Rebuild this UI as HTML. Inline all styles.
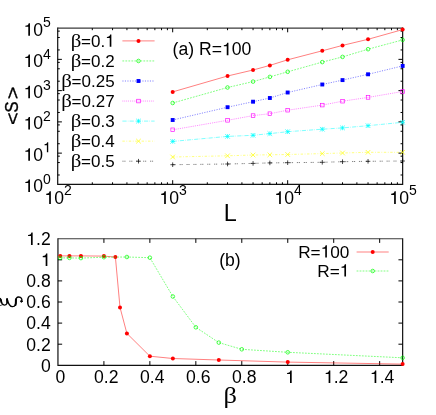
<!DOCTYPE html>
<html><head><meta charset="utf-8"><title>plot</title>
<style>html,body{margin:0;padding:0;background:#fff;}body{width:436px;height:415px;overflow:hidden;font-family:"Liberation Sans",sans-serif;}</style>
</head><body>
<svg width="436" height="415" viewBox="0 0 436 415" style="display:block;will-change:transform;opacity:0.999">
<rect width="436" height="415" fill="#fff"/>
<g font-family='"Liberation Sans", sans-serif' fill="#000" style="font-kerning:none">
<path d="M57.7 27.55V184.4H402.65V27.55" stroke="#111" stroke-width="1.2" fill="none"/>
<path d="M57.7 28.1H402.65" stroke="#3a3a3a" stroke-width="1.1" fill="none"/>
<line x1="57.70" y1="174.99" x2="59.80" y2="174.99" stroke="#000" stroke-width="1"/>
<line x1="402.65" y1="174.99" x2="400.55" y2="174.99" stroke="#000" stroke-width="1"/>
<line x1="57.70" y1="162.55" x2="59.80" y2="162.55" stroke="#000" stroke-width="1"/>
<line x1="402.65" y1="162.55" x2="400.55" y2="162.55" stroke="#000" stroke-width="1"/>
<line x1="57.70" y1="156.17" x2="59.80" y2="156.17" stroke="#000" stroke-width="1"/>
<line x1="402.65" y1="156.17" x2="400.55" y2="156.17" stroke="#000" stroke-width="1"/>
<path transform="translate(23.53,192.00) scale(0.01760,-0.01760)" d="M366 0L270 0L270 508L104 508L104 570C209 572 268 606 296 712L366 712Z" fill="#000"/>
<text x="33.32" y="192.00" font-size="17.6">0</text>
<text x="43.11" y="183.60" font-size="14.0">0</text>
<line x1="57.70" y1="153.14" x2="61.90" y2="153.14" stroke="#000" stroke-width="1"/>
<line x1="402.65" y1="153.14" x2="398.45" y2="153.14" stroke="#000" stroke-width="1"/>
<line x1="57.70" y1="143.73" x2="59.80" y2="143.73" stroke="#000" stroke-width="1"/>
<line x1="402.65" y1="143.73" x2="400.55" y2="143.73" stroke="#000" stroke-width="1"/>
<line x1="57.70" y1="131.29" x2="59.80" y2="131.29" stroke="#000" stroke-width="1"/>
<line x1="402.65" y1="131.29" x2="400.55" y2="131.29" stroke="#000" stroke-width="1"/>
<line x1="57.70" y1="124.91" x2="59.80" y2="124.91" stroke="#000" stroke-width="1"/>
<line x1="402.65" y1="124.91" x2="400.55" y2="124.91" stroke="#000" stroke-width="1"/>
<path transform="translate(23.53,160.74) scale(0.01760,-0.01760)" d="M366 0L270 0L270 508L104 508L104 570C209 572 268 606 296 712L366 712Z" fill="#000"/>
<text x="33.32" y="160.74" font-size="17.6">0</text>
<path transform="translate(43.11,152.34) scale(0.01400,-0.01400)" d="M366 0L270 0L270 508L104 508L104 570C209 572 268 606 296 712L366 712Z" fill="#000"/>
<line x1="57.70" y1="121.88" x2="61.90" y2="121.88" stroke="#000" stroke-width="1"/>
<line x1="402.65" y1="121.88" x2="398.45" y2="121.88" stroke="#000" stroke-width="1"/>
<line x1="57.70" y1="112.47" x2="59.80" y2="112.47" stroke="#000" stroke-width="1"/>
<line x1="402.65" y1="112.47" x2="400.55" y2="112.47" stroke="#000" stroke-width="1"/>
<line x1="57.70" y1="100.03" x2="59.80" y2="100.03" stroke="#000" stroke-width="1"/>
<line x1="402.65" y1="100.03" x2="400.55" y2="100.03" stroke="#000" stroke-width="1"/>
<line x1="57.70" y1="93.65" x2="59.80" y2="93.65" stroke="#000" stroke-width="1"/>
<line x1="402.65" y1="93.65" x2="400.55" y2="93.65" stroke="#000" stroke-width="1"/>
<path transform="translate(23.53,129.48) scale(0.01760,-0.01760)" d="M366 0L270 0L270 508L104 508L104 570C209 572 268 606 296 712L366 712Z" fill="#000"/>
<text x="33.32" y="129.48" font-size="17.6">0</text>
<text x="43.11" y="121.08" font-size="14.0">2</text>
<line x1="57.70" y1="90.62" x2="61.90" y2="90.62" stroke="#000" stroke-width="1"/>
<line x1="402.65" y1="90.62" x2="398.45" y2="90.62" stroke="#000" stroke-width="1"/>
<line x1="57.70" y1="81.21" x2="59.80" y2="81.21" stroke="#000" stroke-width="1"/>
<line x1="402.65" y1="81.21" x2="400.55" y2="81.21" stroke="#000" stroke-width="1"/>
<line x1="57.70" y1="68.77" x2="59.80" y2="68.77" stroke="#000" stroke-width="1"/>
<line x1="402.65" y1="68.77" x2="400.55" y2="68.77" stroke="#000" stroke-width="1"/>
<line x1="57.70" y1="62.39" x2="59.80" y2="62.39" stroke="#000" stroke-width="1"/>
<line x1="402.65" y1="62.39" x2="400.55" y2="62.39" stroke="#000" stroke-width="1"/>
<path transform="translate(23.53,98.22) scale(0.01760,-0.01760)" d="M366 0L270 0L270 508L104 508L104 570C209 572 268 606 296 712L366 712Z" fill="#000"/>
<text x="33.32" y="98.22" font-size="17.6">0</text>
<text x="43.11" y="89.82" font-size="14.0">3</text>
<line x1="57.70" y1="59.36" x2="61.90" y2="59.36" stroke="#000" stroke-width="1"/>
<line x1="402.65" y1="59.36" x2="398.45" y2="59.36" stroke="#000" stroke-width="1"/>
<line x1="57.70" y1="49.95" x2="59.80" y2="49.95" stroke="#000" stroke-width="1"/>
<line x1="402.65" y1="49.95" x2="400.55" y2="49.95" stroke="#000" stroke-width="1"/>
<line x1="57.70" y1="37.51" x2="59.80" y2="37.51" stroke="#000" stroke-width="1"/>
<line x1="402.65" y1="37.51" x2="400.55" y2="37.51" stroke="#000" stroke-width="1"/>
<line x1="57.70" y1="31.13" x2="59.80" y2="31.13" stroke="#000" stroke-width="1"/>
<line x1="402.65" y1="31.13" x2="400.55" y2="31.13" stroke="#000" stroke-width="1"/>
<path transform="translate(23.53,66.96) scale(0.01760,-0.01760)" d="M366 0L270 0L270 508L104 508L104 570C209 572 268 606 296 712L366 712Z" fill="#000"/>
<text x="33.32" y="66.96" font-size="17.6">0</text>
<text x="43.11" y="58.56" font-size="14.0">4</text>
<path transform="translate(23.53,35.70) scale(0.01760,-0.01760)" d="M366 0L270 0L270 508L104 508L104 570C209 572 268 606 296 712L366 712Z" fill="#000"/>
<text x="33.32" y="35.70" font-size="17.6">0</text>
<text x="43.11" y="27.30" font-size="14.0">5</text>
<line x1="92.31" y1="184.40" x2="92.31" y2="182.30" stroke="#000" stroke-width="1"/>
<line x1="92.31" y1="28.10" x2="92.31" y2="30.20" stroke="#000" stroke-width="1"/>
<line x1="112.56" y1="184.40" x2="112.56" y2="182.30" stroke="#000" stroke-width="1"/>
<line x1="112.56" y1="28.10" x2="112.56" y2="30.20" stroke="#000" stroke-width="1"/>
<line x1="126.93" y1="184.40" x2="126.93" y2="182.30" stroke="#000" stroke-width="1"/>
<line x1="126.93" y1="28.10" x2="126.93" y2="30.20" stroke="#000" stroke-width="1"/>
<line x1="138.07" y1="184.40" x2="138.07" y2="182.30" stroke="#000" stroke-width="1"/>
<line x1="138.07" y1="28.10" x2="138.07" y2="30.20" stroke="#000" stroke-width="1"/>
<line x1="147.17" y1="184.40" x2="147.17" y2="182.30" stroke="#000" stroke-width="1"/>
<line x1="147.17" y1="28.10" x2="147.17" y2="30.20" stroke="#000" stroke-width="1"/>
<line x1="154.87" y1="184.40" x2="154.87" y2="182.30" stroke="#000" stroke-width="1"/>
<line x1="154.87" y1="28.10" x2="154.87" y2="30.20" stroke="#000" stroke-width="1"/>
<line x1="161.54" y1="184.40" x2="161.54" y2="182.30" stroke="#000" stroke-width="1"/>
<line x1="161.54" y1="28.10" x2="161.54" y2="30.20" stroke="#000" stroke-width="1"/>
<line x1="167.42" y1="184.40" x2="167.42" y2="182.30" stroke="#000" stroke-width="1"/>
<line x1="167.42" y1="28.10" x2="167.42" y2="30.20" stroke="#000" stroke-width="1"/>
<path transform="translate(44.42,203.90) scale(0.01760,-0.01760)" d="M366 0L270 0L270 508L104 508L104 570C209 572 268 606 296 712L366 712Z" fill="#000"/>
<text x="54.21" y="203.90" font-size="17.6">0</text>
<text x="64.00" y="194.80" font-size="14.0">2</text>
<line x1="172.68" y1="184.40" x2="172.68" y2="180.20" stroke="#000" stroke-width="1"/>
<line x1="172.68" y1="28.10" x2="172.68" y2="32.30" stroke="#000" stroke-width="1"/>
<line x1="207.30" y1="184.40" x2="207.30" y2="182.30" stroke="#000" stroke-width="1"/>
<line x1="207.30" y1="28.10" x2="207.30" y2="30.20" stroke="#000" stroke-width="1"/>
<line x1="227.54" y1="184.40" x2="227.54" y2="182.30" stroke="#000" stroke-width="1"/>
<line x1="227.54" y1="28.10" x2="227.54" y2="30.20" stroke="#000" stroke-width="1"/>
<line x1="241.91" y1="184.40" x2="241.91" y2="182.30" stroke="#000" stroke-width="1"/>
<line x1="241.91" y1="28.10" x2="241.91" y2="30.20" stroke="#000" stroke-width="1"/>
<line x1="253.05" y1="184.40" x2="253.05" y2="182.30" stroke="#000" stroke-width="1"/>
<line x1="253.05" y1="28.10" x2="253.05" y2="30.20" stroke="#000" stroke-width="1"/>
<line x1="262.16" y1="184.40" x2="262.16" y2="182.30" stroke="#000" stroke-width="1"/>
<line x1="262.16" y1="28.10" x2="262.16" y2="30.20" stroke="#000" stroke-width="1"/>
<line x1="269.86" y1="184.40" x2="269.86" y2="182.30" stroke="#000" stroke-width="1"/>
<line x1="269.86" y1="28.10" x2="269.86" y2="30.20" stroke="#000" stroke-width="1"/>
<line x1="276.52" y1="184.40" x2="276.52" y2="182.30" stroke="#000" stroke-width="1"/>
<line x1="276.52" y1="28.10" x2="276.52" y2="30.20" stroke="#000" stroke-width="1"/>
<line x1="282.41" y1="184.40" x2="282.41" y2="182.30" stroke="#000" stroke-width="1"/>
<line x1="282.41" y1="28.10" x2="282.41" y2="30.20" stroke="#000" stroke-width="1"/>
<path transform="translate(159.40,203.90) scale(0.01760,-0.01760)" d="M366 0L270 0L270 508L104 508L104 570C209 572 268 606 296 712L366 712Z" fill="#000"/>
<text x="169.19" y="203.90" font-size="17.6">0</text>
<text x="178.98" y="194.80" font-size="14.0">3</text>
<line x1="287.67" y1="184.40" x2="287.67" y2="180.20" stroke="#000" stroke-width="1"/>
<line x1="287.67" y1="28.10" x2="287.67" y2="32.30" stroke="#000" stroke-width="1"/>
<line x1="322.28" y1="184.40" x2="322.28" y2="182.30" stroke="#000" stroke-width="1"/>
<line x1="322.28" y1="28.10" x2="322.28" y2="30.20" stroke="#000" stroke-width="1"/>
<line x1="342.53" y1="184.40" x2="342.53" y2="182.30" stroke="#000" stroke-width="1"/>
<line x1="342.53" y1="28.10" x2="342.53" y2="30.20" stroke="#000" stroke-width="1"/>
<line x1="356.89" y1="184.40" x2="356.89" y2="182.30" stroke="#000" stroke-width="1"/>
<line x1="356.89" y1="28.10" x2="356.89" y2="30.20" stroke="#000" stroke-width="1"/>
<line x1="368.04" y1="184.40" x2="368.04" y2="182.30" stroke="#000" stroke-width="1"/>
<line x1="368.04" y1="28.10" x2="368.04" y2="30.20" stroke="#000" stroke-width="1"/>
<line x1="377.14" y1="184.40" x2="377.14" y2="182.30" stroke="#000" stroke-width="1"/>
<line x1="377.14" y1="28.10" x2="377.14" y2="30.20" stroke="#000" stroke-width="1"/>
<line x1="384.84" y1="184.40" x2="384.84" y2="182.30" stroke="#000" stroke-width="1"/>
<line x1="384.84" y1="28.10" x2="384.84" y2="30.20" stroke="#000" stroke-width="1"/>
<line x1="391.51" y1="184.40" x2="391.51" y2="182.30" stroke="#000" stroke-width="1"/>
<line x1="391.51" y1="28.10" x2="391.51" y2="30.20" stroke="#000" stroke-width="1"/>
<line x1="397.39" y1="184.40" x2="397.39" y2="182.30" stroke="#000" stroke-width="1"/>
<line x1="397.39" y1="28.10" x2="397.39" y2="30.20" stroke="#000" stroke-width="1"/>
<path transform="translate(274.38,203.90) scale(0.01760,-0.01760)" d="M366 0L270 0L270 508L104 508L104 570C209 572 268 606 296 712L366 712Z" fill="#000"/>
<text x="284.17" y="203.90" font-size="17.6">0</text>
<text x="293.96" y="194.80" font-size="14.0">4</text>
<path transform="translate(389.37,203.90) scale(0.01760,-0.01760)" d="M366 0L270 0L270 508L104 508L104 570C209 572 268 606 296 712L366 712Z" fill="#000"/>
<text x="399.16" y="203.90" font-size="17.6">0</text>
<text x="408.95" y="194.80" font-size="14.0">5</text>
<polyline points="172.68,91.90 227.54,76.00 253.05,70.00 269.86,65.40 287.67,59.80 322.28,50.80 342.53,45.40 368.04,39.30 402.65,29.60" fill="none" stroke="#ff0000" stroke-width="0.5"/>
<circle cx="172.68" cy="91.90" r="2.0" fill="#ff0000"/>
<circle cx="227.54" cy="76.00" r="2.0" fill="#ff0000"/>
<circle cx="253.05" cy="70.00" r="2.0" fill="#ff0000"/>
<circle cx="269.86" cy="65.40" r="2.0" fill="#ff0000"/>
<circle cx="287.67" cy="59.80" r="2.0" fill="#ff0000"/>
<circle cx="322.28" cy="50.80" r="2.0" fill="#ff0000"/>
<circle cx="342.53" cy="45.40" r="2.0" fill="#ff0000"/>
<circle cx="368.04" cy="39.30" r="2.0" fill="#ff0000"/>
<circle cx="402.65" cy="29.60" r="2.0" fill="#ff0000"/>
<polyline points="122.40,40.90 154.60,40.90" fill="none" stroke="#ff0000" stroke-width="0.5"/>
<circle cx="138.50" cy="40.90" r="2.0" fill="#ff0000"/>
<text x="81.04" y="46.70" font-size="17.0">=0.</text>
<path transform="translate(105.14,46.70) scale(0.01700,-0.01700)" d="M366 0L270 0L270 508L104 508L104 570C209 572 268 606 296 712L366 712Z" fill="#000"/>
<text transform="translate(81.34,46.70) scale(1.17,1)" font-size="17.8" text-anchor="end" font-family='"Liberation Serif", serif'>β</text>
<polyline points="172.68,103.00 227.54,87.50 253.05,81.60 269.86,76.90 287.67,71.80 322.28,62.10 342.53,56.90 368.04,49.20 402.65,39.90" fill="none" stroke="#00ff00" stroke-width="0.5" stroke-dasharray="1.8 1.2"/>
<circle cx="172.68" cy="103.00" r="1.8" fill="none" stroke="#00ff00" stroke-width="0.7"/>
<circle cx="227.54" cy="87.50" r="1.8" fill="none" stroke="#00ff00" stroke-width="0.7"/>
<circle cx="253.05" cy="81.60" r="1.8" fill="none" stroke="#00ff00" stroke-width="0.7"/>
<circle cx="269.86" cy="76.90" r="1.8" fill="none" stroke="#00ff00" stroke-width="0.7"/>
<circle cx="287.67" cy="71.80" r="1.8" fill="none" stroke="#00ff00" stroke-width="0.7"/>
<circle cx="322.28" cy="62.10" r="1.8" fill="none" stroke="#00ff00" stroke-width="0.7"/>
<circle cx="342.53" cy="56.90" r="1.8" fill="none" stroke="#00ff00" stroke-width="0.7"/>
<circle cx="368.04" cy="49.20" r="1.8" fill="none" stroke="#00ff00" stroke-width="0.7"/>
<circle cx="402.65" cy="39.90" r="1.8" fill="none" stroke="#00ff00" stroke-width="0.7"/>
<polyline points="122.40,60.95 154.60,60.95" fill="none" stroke="#00ff00" stroke-width="0.5" stroke-dasharray="1.8 1.2"/>
<circle cx="138.50" cy="60.95" r="1.8" fill="none" stroke="#00ff00" stroke-width="0.7"/>
<text x="81.04" y="66.75" font-size="17.0">=0.2</text>
<text transform="translate(81.34,66.75) scale(1.17,1)" font-size="17.8" text-anchor="end" font-family='"Liberation Serif", serif'>β</text>
<polyline points="172.68,120.00 227.54,107.20 253.05,101.70 269.86,98.00 287.67,92.50 322.28,84.50 342.53,80.10 368.04,74.30 402.65,65.90" fill="none" stroke="#0000ff" stroke-width="0.5" stroke-dasharray="1.1 1.4"/>
<rect x="170.73" y="118.05" width="3.9" height="3.9" fill="#0000ff"/>
<rect x="225.59" y="105.25" width="3.9" height="3.9" fill="#0000ff"/>
<rect x="251.10" y="99.75" width="3.9" height="3.9" fill="#0000ff"/>
<rect x="267.91" y="96.05" width="3.9" height="3.9" fill="#0000ff"/>
<rect x="285.72" y="90.55" width="3.9" height="3.9" fill="#0000ff"/>
<rect x="320.33" y="82.55" width="3.9" height="3.9" fill="#0000ff"/>
<rect x="340.58" y="78.15" width="3.9" height="3.9" fill="#0000ff"/>
<rect x="366.09" y="72.35" width="3.9" height="3.9" fill="#0000ff"/>
<rect x="400.70" y="63.95" width="3.9" height="3.9" fill="#0000ff"/>
<polyline points="122.40,81.00 154.60,81.00" fill="none" stroke="#0000ff" stroke-width="0.5" stroke-dasharray="1.1 1.4"/>
<rect x="136.55" y="79.05" width="3.9" height="3.9" fill="#0000ff"/>
<text x="71.58" y="86.80" font-size="17.0">=0.25</text>
<text transform="translate(71.88,86.80) scale(1.17,1)" font-size="17.8" text-anchor="end" font-family='"Liberation Serif", serif'>β</text>
<polyline points="172.68,129.80 227.54,120.30 253.05,115.60 269.86,113.70 287.67,110.20 322.28,105.10 342.53,101.20 368.04,97.40 402.65,91.50" fill="none" stroke="#ff00ff" stroke-width="0.5" stroke-dasharray="0.9 1.0"/>
<rect x="170.88" y="128.00" width="3.6" height="3.6" fill="none" stroke="#ff00ff" stroke-width="0.65"/>
<rect x="225.74" y="118.50" width="3.6" height="3.6" fill="none" stroke="#ff00ff" stroke-width="0.65"/>
<rect x="251.25" y="113.80" width="3.6" height="3.6" fill="none" stroke="#ff00ff" stroke-width="0.65"/>
<rect x="268.06" y="111.90" width="3.6" height="3.6" fill="none" stroke="#ff00ff" stroke-width="0.65"/>
<rect x="285.87" y="108.40" width="3.6" height="3.6" fill="none" stroke="#ff00ff" stroke-width="0.65"/>
<rect x="320.48" y="103.30" width="3.6" height="3.6" fill="none" stroke="#ff00ff" stroke-width="0.65"/>
<rect x="340.73" y="99.40" width="3.6" height="3.6" fill="none" stroke="#ff00ff" stroke-width="0.65"/>
<rect x="366.24" y="95.60" width="3.6" height="3.6" fill="none" stroke="#ff00ff" stroke-width="0.65"/>
<rect x="400.85" y="89.70" width="3.6" height="3.6" fill="none" stroke="#ff00ff" stroke-width="0.65"/>
<polyline points="122.40,101.05 154.60,101.05" fill="none" stroke="#ff00ff" stroke-width="0.5" stroke-dasharray="0.9 1.0"/>
<rect x="136.70" y="99.25" width="3.6" height="3.6" fill="none" stroke="#ff00ff" stroke-width="0.65"/>
<text x="71.58" y="106.85" font-size="17.0">=0.27</text>
<text transform="translate(71.88,106.85) scale(1.17,1)" font-size="17.8" text-anchor="end" font-family='"Liberation Serif", serif'>β</text>
<polyline points="172.68,141.40 227.54,136.40 253.05,135.30 269.86,133.60 287.67,131.70 322.28,129.20 342.53,127.90 368.04,125.70 402.65,122.30" fill="none" stroke="#00ffff" stroke-width="0.5" stroke-dasharray="4.2 1.2 0.6 1.2"/>
<path d="M170.38 141.40H174.98M172.68 139.10V143.70M170.38 139.10L174.98 143.70M170.38 143.70L174.98 139.10" stroke="#00ffff" stroke-width="0.7" fill="none"/>
<path d="M225.24 136.40H229.84M227.54 134.10V138.70M225.24 134.10L229.84 138.70M225.24 138.70L229.84 134.10" stroke="#00ffff" stroke-width="0.7" fill="none"/>
<path d="M250.75 135.30H255.35M253.05 133.00V137.60M250.75 133.00L255.35 137.60M250.75 137.60L255.35 133.00" stroke="#00ffff" stroke-width="0.7" fill="none"/>
<path d="M267.56 133.60H272.16M269.86 131.30V135.90M267.56 131.30L272.16 135.90M267.56 135.90L272.16 131.30" stroke="#00ffff" stroke-width="0.7" fill="none"/>
<path d="M285.37 131.70H289.97M287.67 129.40V134.00M285.37 129.40L289.97 134.00M285.37 134.00L289.97 129.40" stroke="#00ffff" stroke-width="0.7" fill="none"/>
<path d="M319.98 129.20H324.58M322.28 126.90V131.50M319.98 126.90L324.58 131.50M319.98 131.50L324.58 126.90" stroke="#00ffff" stroke-width="0.7" fill="none"/>
<path d="M340.23 127.90H344.83M342.53 125.60V130.20M340.23 125.60L344.83 130.20M340.23 130.20L344.83 125.60" stroke="#00ffff" stroke-width="0.7" fill="none"/>
<path d="M365.74 125.70H370.34M368.04 123.40V128.00M365.74 123.40L370.34 128.00M365.74 128.00L370.34 123.40" stroke="#00ffff" stroke-width="0.7" fill="none"/>
<path d="M400.35 122.30H404.95M402.65 120.00V124.60M400.35 120.00L404.95 124.60M400.35 124.60L404.95 120.00" stroke="#00ffff" stroke-width="0.7" fill="none"/>
<polyline points="122.40,121.10 154.60,121.10" fill="none" stroke="#00ffff" stroke-width="0.5" stroke-dasharray="4.2 1.2 0.6 1.2"/>
<path d="M136.20 121.10H140.80M138.50 118.80V123.40M136.20 118.80L140.80 123.40M136.20 123.40L140.80 118.80" stroke="#00ffff" stroke-width="0.7" fill="none"/>
<text x="81.04" y="126.90" font-size="17.0">=0.3</text>
<text transform="translate(81.34,126.90) scale(1.17,1)" font-size="17.8" text-anchor="end" font-family='"Liberation Serif", serif'>β</text>
<polyline points="172.68,157.00 227.54,155.80 253.05,155.00 269.86,154.80 287.67,154.50 322.28,153.60 342.53,153.00 368.04,152.30 402.65,152.30" fill="none" stroke="#ffff00" stroke-width="0.5" stroke-dasharray="2.4 1.6 0.8 1.6"/>
<path d="M170.38 154.70L174.98 159.30M170.38 159.30L174.98 154.70" stroke="#ffff00" stroke-width="0.7" fill="none"/>
<path d="M225.24 153.50L229.84 158.10M225.24 158.10L229.84 153.50" stroke="#ffff00" stroke-width="0.7" fill="none"/>
<path d="M250.75 152.70L255.35 157.30M250.75 157.30L255.35 152.70" stroke="#ffff00" stroke-width="0.7" fill="none"/>
<path d="M267.56 152.50L272.16 157.10M267.56 157.10L272.16 152.50" stroke="#ffff00" stroke-width="0.7" fill="none"/>
<path d="M285.37 152.20L289.97 156.80M285.37 156.80L289.97 152.20" stroke="#ffff00" stroke-width="0.7" fill="none"/>
<path d="M319.98 151.30L324.58 155.90M319.98 155.90L324.58 151.30" stroke="#ffff00" stroke-width="0.7" fill="none"/>
<path d="M340.23 150.70L344.83 155.30M340.23 155.30L344.83 150.70" stroke="#ffff00" stroke-width="0.7" fill="none"/>
<path d="M365.74 150.00L370.34 154.60M365.74 154.60L370.34 150.00" stroke="#ffff00" stroke-width="0.7" fill="none"/>
<path d="M400.35 150.00L404.95 154.60M400.35 154.60L404.95 150.00" stroke="#ffff00" stroke-width="0.7" fill="none"/>
<polyline points="122.40,141.15 154.60,141.15" fill="none" stroke="#ffff00" stroke-width="0.5" stroke-dasharray="2.4 1.6 0.8 1.6"/>
<path d="M136.20 138.85L140.80 143.45M136.20 143.45L140.80 138.85" stroke="#ffff00" stroke-width="0.7" fill="none"/>
<text x="81.04" y="146.95" font-size="17.0">=0.4</text>
<text transform="translate(81.34,146.95) scale(1.17,1)" font-size="17.8" text-anchor="end" font-family='"Liberation Serif", serif'>β</text>
<polyline points="172.68,164.70 227.54,164.00 253.05,163.40 269.86,162.90 287.67,162.70 322.28,162.30 342.53,161.70 368.04,161.30 402.65,161.00" fill="none" stroke="#000000" stroke-width="0.5" stroke-dasharray="1.2 0.7 1.2 3.8"/>
<path d="M170.38 164.70H174.98M172.68 162.40V167.00" stroke="#000000" stroke-width="0.7" fill="none"/>
<path d="M225.24 164.00H229.84M227.54 161.70V166.30" stroke="#000000" stroke-width="0.7" fill="none"/>
<path d="M250.75 163.40H255.35M253.05 161.10V165.70" stroke="#000000" stroke-width="0.7" fill="none"/>
<path d="M267.56 162.90H272.16M269.86 160.60V165.20" stroke="#000000" stroke-width="0.7" fill="none"/>
<path d="M285.37 162.70H289.97M287.67 160.40V165.00" stroke="#000000" stroke-width="0.7" fill="none"/>
<path d="M319.98 162.30H324.58M322.28 160.00V164.60" stroke="#000000" stroke-width="0.7" fill="none"/>
<path d="M340.23 161.70H344.83M342.53 159.40V164.00" stroke="#000000" stroke-width="0.7" fill="none"/>
<path d="M365.74 161.30H370.34M368.04 159.00V163.60" stroke="#000000" stroke-width="0.7" fill="none"/>
<path d="M400.35 161.00H404.95M402.65 158.70V163.30" stroke="#000000" stroke-width="0.7" fill="none"/>
<polyline points="122.40,161.20 154.60,161.20" fill="none" stroke="#000000" stroke-width="0.5" stroke-dasharray="1.2 0.7 1.2 3.8"/>
<path d="M136.20 161.20H140.80M138.50 158.90V163.50" stroke="#000000" stroke-width="0.7" fill="none"/>
<text x="81.04" y="167.00" font-size="17.0">=0.5</text>
<text transform="translate(81.34,167.00) scale(1.17,1)" font-size="17.8" text-anchor="end" font-family='"Liberation Serif", serif'>β</text>
<text x="172.60" y="55.20" font-size="17.6">(a) R=</text>
<path transform="translate(221.99,55.20) scale(0.01760,-0.01760)" d="M366 0L270 0L270 508L104 508L104 570C209 572 268 606 296 712L366 712Z" fill="#000"/>
<text x="231.78" y="55.20" font-size="17.6">00</text>
<g transform="translate(17.7,106.85) rotate(-90)" text-anchor="middle" stroke="#000" stroke-width="0.35"><text transform="translate(-12.0,1.3) scale(1,0.88)" font-size="21.5">&lt;</text><text transform="scale(0.9,1)" x="0" y="0" font-size="18.4">S</text><text transform="translate(13.9,1.3) scale(1,0.88)" font-size="21.5">&gt;</text></g>
<text x="230.3" y="220.9" font-size="23.4" text-anchor="middle">L</text>
<path d="M57.95 238.14999999999998V365.3H402.65V238.14999999999998" stroke="#111" stroke-width="1.2" fill="none"/>
<path d="M57.95 238.7H402.65" stroke="#3a3a3a" stroke-width="1.1" fill="none"/>
<text x="40.91" y="371.60" font-size="17.6">0</text>
<line x1="57.95" y1="344.20" x2="62.15" y2="344.20" stroke="#000" stroke-width="1"/>
<line x1="402.65" y1="344.20" x2="398.45" y2="344.20" stroke="#000" stroke-width="1"/>
<text x="26.23" y="350.50" font-size="17.6">0.2</text>
<line x1="57.95" y1="323.10" x2="62.15" y2="323.10" stroke="#000" stroke-width="1"/>
<line x1="402.65" y1="323.10" x2="398.45" y2="323.10" stroke="#000" stroke-width="1"/>
<text x="26.23" y="329.40" font-size="17.6">0.4</text>
<line x1="57.95" y1="302.00" x2="62.15" y2="302.00" stroke="#000" stroke-width="1"/>
<line x1="402.65" y1="302.00" x2="398.45" y2="302.00" stroke="#000" stroke-width="1"/>
<text x="26.23" y="308.30" font-size="17.6">0.6</text>
<line x1="57.95" y1="280.90" x2="62.15" y2="280.90" stroke="#000" stroke-width="1"/>
<line x1="402.65" y1="280.90" x2="398.45" y2="280.90" stroke="#000" stroke-width="1"/>
<text x="26.23" y="287.20" font-size="17.6">0.8</text>
<line x1="57.95" y1="259.80" x2="62.15" y2="259.80" stroke="#000" stroke-width="1"/>
<line x1="402.65" y1="259.80" x2="398.45" y2="259.80" stroke="#000" stroke-width="1"/>
<path transform="translate(40.91,266.10) scale(0.01760,-0.01760)" d="M366 0L270 0L270 508L104 508L104 570C209 572 268 606 296 712L366 712Z" fill="#000"/>
<path transform="translate(26.23,245.00) scale(0.01760,-0.01760)" d="M366 0L270 0L270 508L104 508L104 570C209 572 268 606 296 712L366 712Z" fill="#000"/>
<text x="36.02" y="245.00" font-size="17.6">.2</text>
<text x="55.46" y="383.00" font-size="17.6">0</text>
<line x1="103.91" y1="365.30" x2="103.91" y2="361.10" stroke="#000" stroke-width="1"/>
<line x1="103.91" y1="238.70" x2="103.91" y2="242.90" stroke="#000" stroke-width="1"/>
<text x="94.08" y="383.00" font-size="17.6">0.2</text>
<line x1="149.87" y1="365.30" x2="149.87" y2="361.10" stroke="#000" stroke-width="1"/>
<line x1="149.87" y1="238.70" x2="149.87" y2="242.90" stroke="#000" stroke-width="1"/>
<text x="140.04" y="383.00" font-size="17.6">0.4</text>
<line x1="195.83" y1="365.30" x2="195.83" y2="361.10" stroke="#000" stroke-width="1"/>
<line x1="195.83" y1="238.70" x2="195.83" y2="242.90" stroke="#000" stroke-width="1"/>
<text x="186.00" y="383.00" font-size="17.6">0.6</text>
<line x1="241.79" y1="365.30" x2="241.79" y2="361.10" stroke="#000" stroke-width="1"/>
<line x1="241.79" y1="238.70" x2="241.79" y2="242.90" stroke="#000" stroke-width="1"/>
<text x="231.96" y="383.00" font-size="17.6">0.8</text>
<line x1="287.75" y1="365.30" x2="287.75" y2="361.10" stroke="#000" stroke-width="1"/>
<line x1="287.75" y1="238.70" x2="287.75" y2="242.90" stroke="#000" stroke-width="1"/>
<path transform="translate(285.26,383.00) scale(0.01760,-0.01760)" d="M366 0L270 0L270 508L104 508L104 570C209 572 268 606 296 712L366 712Z" fill="#000"/>
<line x1="333.71" y1="365.30" x2="333.71" y2="361.10" stroke="#000" stroke-width="1"/>
<line x1="333.71" y1="238.70" x2="333.71" y2="242.90" stroke="#000" stroke-width="1"/>
<path transform="translate(323.88,383.00) scale(0.01760,-0.01760)" d="M366 0L270 0L270 508L104 508L104 570C209 572 268 606 296 712L366 712Z" fill="#000"/>
<text x="333.67" y="383.00" font-size="17.6">.2</text>
<line x1="379.67" y1="365.30" x2="379.67" y2="361.10" stroke="#000" stroke-width="1"/>
<line x1="379.67" y1="238.70" x2="379.67" y2="242.90" stroke="#000" stroke-width="1"/>
<path transform="translate(369.84,383.00) scale(0.01760,-0.01760)" d="M366 0L270 0L270 508L104 508L104 570C209 572 268 606 296 712L366 712Z" fill="#000"/>
<text x="379.63" y="383.00" font-size="17.6">.4</text>
<polyline points="60.25,255.90 69.44,255.90 80.93,255.90 103.91,256.10 115.40,257.10 120.00,307.40 126.89,333.40 149.87,356.20 172.85,358.50 218.81,360.00 287.75,362.10 402.65,364.10" fill="none" stroke="#ff0000" stroke-width="0.5"/>
<circle cx="60.25" cy="255.90" r="2.0" fill="#ff0000"/>
<circle cx="69.44" cy="255.90" r="2.0" fill="#ff0000"/>
<circle cx="80.93" cy="255.90" r="2.0" fill="#ff0000"/>
<circle cx="103.91" cy="256.10" r="2.0" fill="#ff0000"/>
<circle cx="115.40" cy="257.10" r="2.0" fill="#ff0000"/>
<circle cx="120.00" cy="307.40" r="2.0" fill="#ff0000"/>
<circle cx="126.89" cy="333.40" r="2.0" fill="#ff0000"/>
<circle cx="149.87" cy="356.20" r="2.0" fill="#ff0000"/>
<circle cx="172.85" cy="358.50" r="2.0" fill="#ff0000"/>
<circle cx="218.81" cy="360.00" r="2.0" fill="#ff0000"/>
<circle cx="287.75" cy="362.10" r="2.0" fill="#ff0000"/>
<circle cx="402.65" cy="364.10" r="2.0" fill="#ff0000"/>
<polyline points="60.25,257.90 69.44,257.90 80.93,258.10 103.91,257.20 126.89,257.00 149.87,257.70 172.85,296.50 195.83,327.30 218.81,342.60 241.79,349.30 287.75,352.30 402.65,357.80" fill="none" stroke="#00ff00" stroke-width="0.5" stroke-dasharray="1.8 1.2"/>
<circle cx="60.25" cy="257.90" r="1.8" fill="none" stroke="#00ff00" stroke-width="0.7"/>
<circle cx="69.44" cy="257.90" r="1.8" fill="none" stroke="#00ff00" stroke-width="0.7"/>
<circle cx="80.93" cy="258.10" r="1.8" fill="none" stroke="#00ff00" stroke-width="0.7"/>
<circle cx="103.91" cy="257.20" r="1.8" fill="none" stroke="#00ff00" stroke-width="0.7"/>
<circle cx="126.89" cy="257.00" r="1.8" fill="none" stroke="#00ff00" stroke-width="0.7"/>
<circle cx="149.87" cy="257.70" r="1.8" fill="none" stroke="#00ff00" stroke-width="0.7"/>
<circle cx="172.85" cy="296.50" r="1.8" fill="none" stroke="#00ff00" stroke-width="0.7"/>
<circle cx="195.83" cy="327.30" r="1.8" fill="none" stroke="#00ff00" stroke-width="0.7"/>
<circle cx="218.81" cy="342.60" r="1.8" fill="none" stroke="#00ff00" stroke-width="0.7"/>
<circle cx="241.79" cy="349.30" r="1.8" fill="none" stroke="#00ff00" stroke-width="0.7"/>
<circle cx="287.75" cy="352.30" r="1.8" fill="none" stroke="#00ff00" stroke-width="0.7"/>
<circle cx="402.65" cy="357.80" r="1.8" fill="none" stroke="#00ff00" stroke-width="0.7"/>
<polyline points="356.60,252.00 388.70,252.00" fill="none" stroke="#ff0000" stroke-width="0.5"/>
<circle cx="372.70" cy="252.00" r="2.0" fill="#ff0000"/>
<polyline points="356.60,271.00 388.70,271.00" fill="none" stroke="#00ff00" stroke-width="0.5" stroke-dasharray="1.8 1.2"/>
<circle cx="372.70" cy="271.00" r="1.8" fill="none" stroke="#00ff00" stroke-width="0.7"/>
<text x="298.13" y="257.60" font-size="17.2">R=</text>
<path transform="translate(320.60,257.60) scale(0.01720,-0.01720)" d="M366 0L270 0L270 508L104 508L104 570C209 572 268 606 296 712L366 712Z" fill="#000"/>
<text x="330.17" y="257.60" font-size="17.2">00</text>
<text x="317.27" y="276.60" font-size="17.2">R=</text>
<path transform="translate(339.73,276.60) scale(0.01720,-0.01720)" d="M366 0L270 0L270 508L104 508L104 570C209 572 268 606 296 712L366 712Z" fill="#000"/>
<text x="219.20" y="265.60" font-size="17.6">(b)</text>
<g fill="none" stroke="#000" stroke-linecap="round" stroke-linejoin="round"><path d="M21.6 301.6 C22.6 299.2 21.2 297.0 18.7 297.0 C16.6 297.0 15.7 298.6 15.9 301.0 C16.1 304.0 15.4 306.6 12.6 306.7 C9.9 306.8 8.4 304.4 7.2 299.0" stroke-width="1.3"/><path d="M16.0 299.2 C15.7 301.0 16.2 303.2 15.4 305.0" stroke-width="2.0"/><path d="M7.1 299.0 C7.3 301.6 7.8 304.6 5.0 305.0 C2.6 305.3 1.3 302.8 0.9 299.6 C0.7 298.2 -0.5 298.0 -2 299.4" stroke-width="1.2"/><path d="M7.0 299.2 L7.3 302.6" stroke-width="1.9"/><path d="M0.9 300.0 L1.5 302.6" stroke-width="1.8"/><circle cx="21.4" cy="301.3" r="0.9" fill="#000" stroke-width="0.8"/><path d="M3.0 304.5 L-1 306.0" stroke-width="0.7"/></g>
<text transform="translate(230.2,403.4) scale(1.12,1)" font-size="23.6" text-anchor="middle" font-family='"Liberation Serif", serif'>β</text>
</g>
</svg>
</body></html>
